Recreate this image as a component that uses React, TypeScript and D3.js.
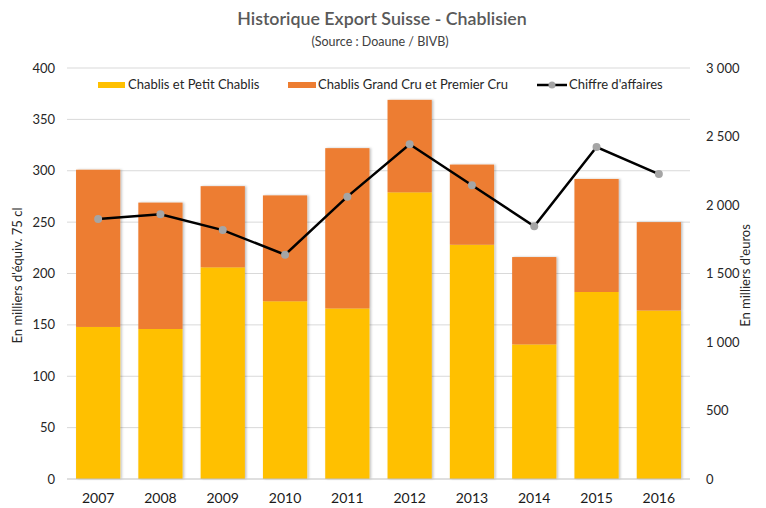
import React from "react";
import * as d3 from "d3";

const years = ["2007", "2008", "2009", "2010", "2011", "2012", "2013", "2014", "2015", "2016"];
const chablisPetit = [148, 146, 206, 173, 166, 279, 228, 131, 182, 164];
const grandPremier = [153, 123, 79, 103, 156, 90, 78, 85, 110, 86];
const chiffreAffaires = [1898, 1932, 1817, 1637, 2061, 2443, 2144, 1845, 2423, 2226];
const leftTicks = [0, 50, 100, 150, 200, 250, 300, 350, 400];
const rightTicks = [0, 500, 1000, 1500, 2000, 2500, 3000];

const W = 766, H = 508;
const M = { left: 67, right: 690, top: 68, bottom: 479 };
const FONT = "Lato, 'Open Sans', sans-serif";

const fmtRight = (v: number) => (v >= 1000 ? `${Math.floor(v / 1000)} ${String(v % 1000).padStart(3, "0")}` : String(v));

export default function App() {
  const x = d3.scaleBand().domain(years).range([M.left, M.right]).paddingInner(0.29).paddingOuter(0.145);
  const yL = d3.scaleLinear().domain([0, 400]).range([M.bottom, M.top]);
  const yR = d3.scaleLinear().domain([0, 3000]).range([M.bottom, M.top]);
  const cx = (y: string) => (x(y) as number) + x.bandwidth() / 2;
  const line = d3.line<number>().x((_, i) => cx(years[i])).y((d) => yR(d));

  return (
    <svg width={W} height={H} style={{ position: "absolute", left: 0, top: 0, background: "#fff" }} fontFamily={FONT}>
      <defs>
        <filter id="sh" x="-20%" y="-5%" width="140%" height="110%">
          <feDropShadow dx="1.5" dy="0" stdDeviation="1" floodColor="#000" floodOpacity="0.25" />
        </filter>
      </defs>
      <text x={382} y={25} textAnchor="middle" fontSize={17.8} fontWeight={600} fill="#595959">Historique Export Suisse - Chablisien</text>
      <text x={380} y={46} textAnchor="middle" fontSize={12.5} fill="#404040">(Source : Doaune / BIVB)</text>

      {leftTicks.map((t) => (
        <g key={"g" + t}>
          {t > 0 && <line x1={M.left} x2={M.right} y1={yL(t)} y2={yL(t)} stroke="#D9D9D9" strokeWidth={1} />}
          <text x={55} y={yL(t) + 4.5} textAnchor="end" fontSize={13} fill="#262626">{t}</text>
        </g>
      ))}
      {rightTicks.map((t) => (
        <text key={"r" + t} x={706} y={yR(t) + 4.5} textAnchor="start" fontSize={13} fill="#262626">{fmtRight(t)}</text>
      ))}

      {years.map((yr, i) => (
        <g key={yr} filter="url(#sh)">
          <rect x={x(yr)} width={x.bandwidth()} y={yL(chablisPetit[i])} height={yL(0) - yL(chablisPetit[i])} fill="#FFC000" />
          <rect x={x(yr)} width={x.bandwidth()} y={yL(chablisPetit[i] + grandPremier[i])} height={yL(chablisPetit[i]) - yL(chablisPetit[i] + grandPremier[i])} fill="#ED7D31" />
        </g>
      ))}
      <line x1={M.left} x2={M.right} y1={M.bottom} y2={M.bottom} stroke="#BFBFBF" strokeWidth={1} />

      <path d={line(chiffreAffaires) || ""} fill="none" stroke="#000" strokeWidth={2.5} />
      {chiffreAffaires.map((v, i) => (
        <circle key={i} cx={cx(years[i])} cy={yR(v)} r={4} fill="#A5A5A5" />
      ))}

      {years.map((yr) => (
        <text key={"x" + yr} x={cx(yr)} y={503} textAnchor="middle" fontSize={14} fill="#1a1a1a">{yr}</text>
      ))}

      <text transform={`translate(22,${(M.top + M.bottom) / 2 + 2}) rotate(-90)`} textAnchor="middle" fontSize={13} fill="#262626">En milliers d'équiv. 75 cl</text>
      <text transform={`translate(750,${(M.top + M.bottom) / 2 + 2}) rotate(-90)`} textAnchor="middle" fontSize={13} fill="#262626">En milliers d'euros</text>

      <g fontSize={13} fill="#262626">
        <rect x={98} y={82} width={27} height={6} fill="#FFC000" />
        <text x={128} y={89}>Chablis et Petit Chablis</text>
        <rect x={288} y={82} width={28} height={6} fill="#ED7D31" />
        <text x={318} y={89}>Chablis Grand Cru et Premier Cru</text>
        <line x1={537} x2={567} y1={85} y2={85} stroke="#000" strokeWidth={2.5} />
        <circle cx={552} cy={85} r={3.5} fill="#A5A5A5" />
        <text x={569} y={89}>Chiffre d'affaires</text>
      </g>
    </svg>
  );
}
